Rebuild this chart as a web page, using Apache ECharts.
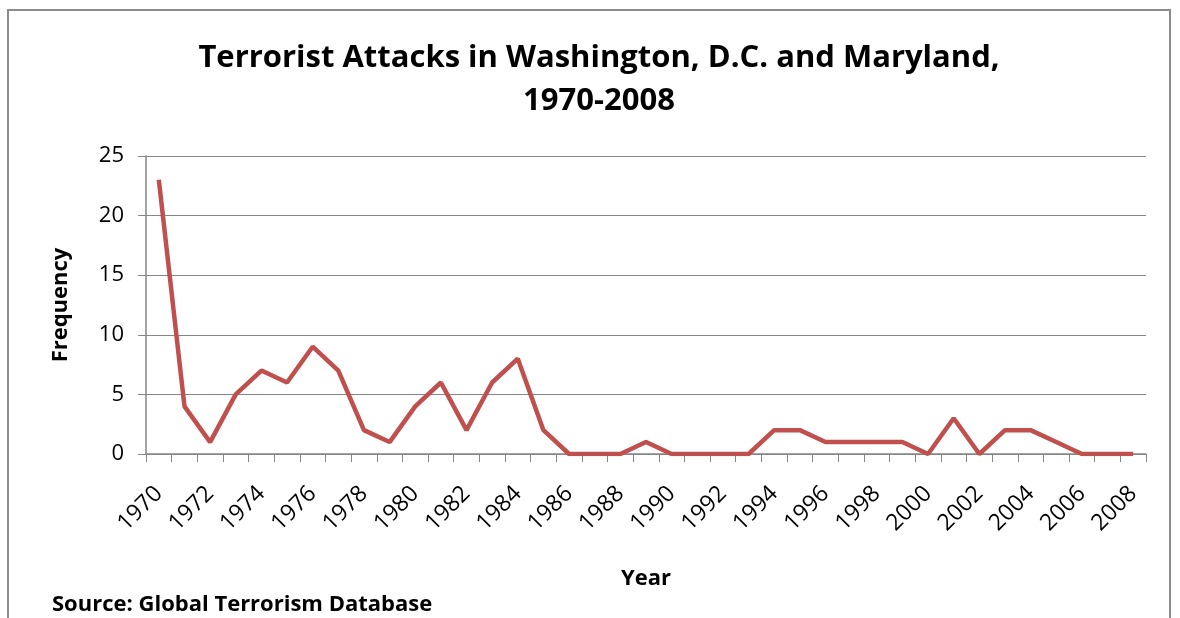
<!DOCTYPE html>
<html><head><meta charset="utf-8">
<script src="https://cdn.jsdelivr.net/npm/echarts@6/dist/echarts.min.js"></script>
<style>html,body{margin:0;padding:0;background:#fff}#c{width:1180px;height:618px}</style>
</head><body><div id="c"></div>
<script>
const years = [];
for (let y = 1970; y <= 2008; y++) years.push(String(y));
const attacks = [23,4,1,5,7,6,9,7,2,1,4,6,2,6,8,2,0,0,0,1,0,0,0,0,2,2,1,1,1,1,0,3,0,2,2,1,0,0,0];
const yTicks = [0,5,10,15,20,25];

const font = '"Open Sans", Lato, sans-serif';
const chart = echarts.init(document.getElementById('c'));
chart.setOption({
  animation: false,
  backgroundColor: '#fff',
  graphic: [{
    type: 'rect', shape: {x: 8, y: 10, width: 1162, height: 640},
    style: {fill: 'none', stroke: '#8c8c8c', lineWidth: 2}, silent: true
  }, {
    type: 'text', left: 52, top: 594,
    style: {text: 'Source: Global Terrorism Database', font: 'bold 22px ' + font, fill: '#000'}
  }],
  title: {
    text: 'Terrorist Attacks in Washington, D.C. and Maryland,\n1970-2008',
    left: 594, top: 32, textAlign: 'center',
    textStyle: {fontFamily: font, fontWeight: 'bold', fontSize: 31, color: '#000', lineHeight: 43}
  },
  grid: {left: 146, right: 34, top: 156, bottom: 164, containLabel: false},
  xAxis: {
    type: 'category', data: years, boundaryGap: true,
    name: 'Year', nameLocation: 'middle', nameGap: 114,
    nameTextStyle: {fontFamily: font, fontWeight: 'bold', fontSize: 22, color: '#000'},
    axisLine: {lineStyle: {color: '#868686', width: 1.5}},
    axisTick: {show: true, interval: 0, length: 8, lineStyle: {color: '#868686'}},
    axisLabel: {interval: 1, rotate: 45, fontFamily: font, fontSize: 23, color: '#000', margin: 36}
  },
  yAxis: {
    type: 'value', min: 0, max: 25, interval: 5,
    name: 'Frequency', nameLocation: 'middle', nameGap: 74, nameRotate: 90,
    nameTextStyle: {fontFamily: font, fontWeight: 'bold', fontSize: 22, color: '#000'},
    axisLine: {show: true, lineStyle: {color: '#868686', width: 1.5}},
    axisTick: {show: true, length: 8, lineStyle: {color: '#868686'}},
    splitLine: {lineStyle: {color: '#868686', width: 1.2}},
    axisLabel: {fontFamily: font, fontSize: 22, color: '#000', margin: 22,
      formatter: v => yTicks.includes(v) ? String(v) : ''}
  },
  series: [{
    type: 'line', data: attacks, symbol: 'none',
    lineStyle: {color: '#C0504D', width: 4.5}, itemStyle: {color: '#C0504D'}
  }]
});
</script></body></html>
